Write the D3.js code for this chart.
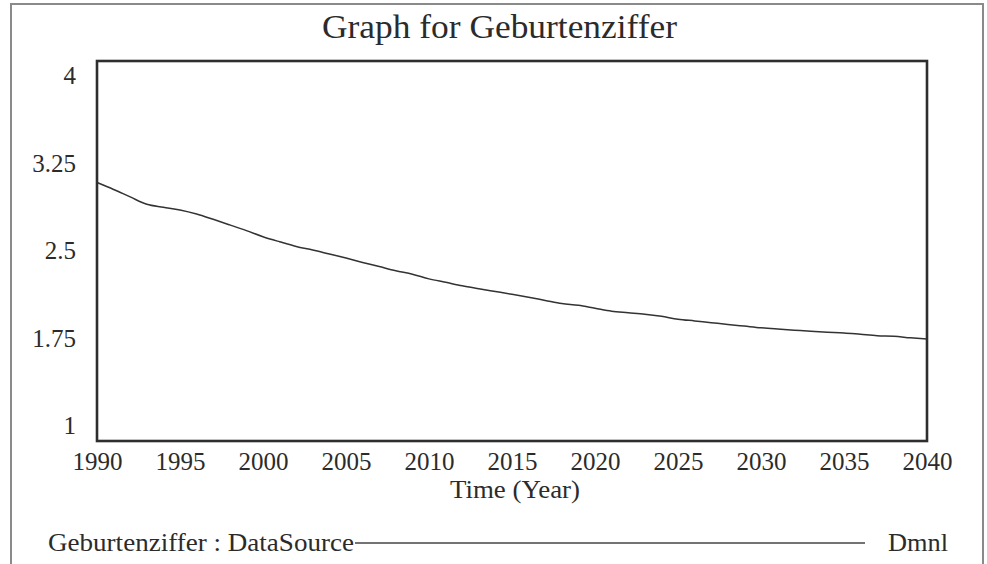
<!DOCTYPE html>
<html>
<head>
<meta charset="utf-8">
<script src="https://cdn.jsdelivr.net/npm/d3@7"></script>
<style>
  html, body { margin: 0; padding: 0; background: #ffffff; }
  svg { display: block; }
  text { font-family: "Liberation Serif", "Times New Roman", serif; fill: #2b2b2b; }
</style>
</head>
<body>
<svg id="chart" width="987" height="564"></svg>
<script>
// ---- data ----
const years = [1990,1991,1992,1993,1994,1995,1996,1997,1998,1999,
               2000,2001,2002,2003,2004,2005,2006,2007,2008,2009,
               2010,2011,2012,2013,2014,2015,2016,2017,2018,2019,
               2020,2021,2022,2023,2024,2025,2026,2027,2028,2029,
               2030,2031,2032,2033,2034,2035,2036,2037,2038,2039,2040];
const geburtenziffer = [3.041,2.986,2.927,2.869,2.846,2.824,2.792,2.750,2.706,2.661,
                        2.613,2.573,2.536,2.508,2.476,2.444,2.410,2.377,2.344,2.317,
                        2.280,2.253,2.225,2.202,2.180,2.158,2.135,2.110,2.085,2.071,
                        2.048,2.025,2.013,2.001,1.984,1.962,1.948,1.934,1.920,1.907,
                        1.894,1.884,1.875,1.866,1.859,1.853,1.842,1.831,1.827,1.815,1.805];
const xTicks = [1990,1995,2000,2005,2010,2015,2020,2025,2030,2035,2040];
const yTicks = [1, 1.75, 2.5, 3.25, 4];
const yTickLabels = ["1", "1.75", "2.5", "3.25", "4"];
const title = "Graph for Geburtenziffer";
const xTitle = "Time (Year)";
const legendName = "Geburtenziffer : DataSource";
const legendUnit = "Dmnl";

// ---- layout ----
const svg = d3.select("#chart");
const plot = { left: 97, right: 927, top: 61, bottom: 441 };

const x = d3.scaleLinear().domain([1990, 2040]).range([plot.left, plot.right]);
const y = d3.scaleLinear().domain([1, 4]).range([plot.bottom, plot.top]);
// Vensim places the extreme value labels inside the frame
const yLabel = d3.scaleLinear().domain([1, 4]).range([425.5, 75.5]);

// outer page frame
svg.append("rect")
  .attr("x", 11).attr("y", 4).attr("width", 972).attr("height", 580)
  .attr("fill", "none").attr("stroke", "#8a8a8a").attr("stroke-width", 2);

// title
svg.append("text")
  .attr("x", 499.5).attr("y", 38)
  .attr("text-anchor", "middle")
  .attr("font-size", 33)
  .attr("textLength", 355).attr("lengthAdjust", "spacingAndGlyphs")
  .text(title);

// data line
const line = d3.line()
  .x((d, i) => x(years[i]))
  .y(d => y(d))
  .curve(d3.curveMonotoneX);

svg.append("path")
  .datum(geburtenziffer)
  .attr("d", line)
  .attr("fill", "none")
  .attr("stroke", "#333")
  .attr("stroke-width", 1.5);

// plot frame
svg.append("rect")
  .attr("x", plot.left).attr("y", plot.top)
  .attr("width", plot.right - plot.left).attr("height", plot.bottom - plot.top)
  .attr("fill", "none").attr("stroke", "#2e2e2e").attr("stroke-width", 2.6);

// x axis labels
const xAxis = svg.append("g")
  .attr("transform", `translate(0,${plot.bottom})`)
  .call(d3.axisBottom(x).tickValues(xTicks).tickSize(0).tickPadding(11.5).tickFormat(d3.format("d")));
xAxis.select(".domain").remove();
xAxis.selectAll("text")
  .attr("font-family", "Liberation Serif, Times New Roman, serif")
  .attr("font-size", 25)
  .attr("fill", "#2b2b2b");

// y axis labels
const yAxis = svg.append("g")
  .attr("transform", `translate(${plot.left},0)`)
  .call(d3.axisLeft(yLabel).tickValues(yTicks).tickSize(0).tickPadding(21)
        .tickFormat((d, i) => yTickLabels[i]));
yAxis.select(".domain").remove();
yAxis.selectAll("text")
  .attr("font-family", "Liberation Serif, Times New Roman, serif")
  .attr("font-size", 25)
  .attr("dy", "0.33em")
  .attr("fill", "#2b2b2b");

// x axis title
svg.append("text")
  .attr("x", 515).attr("y", 498)
  .attr("text-anchor", "middle")
  .attr("font-size", 25)
  .attr("textLength", 130).attr("lengthAdjust", "spacingAndGlyphs")
  .text(xTitle);

// legend
svg.append("text")
  .attr("x", 48).attr("y", 551)
  .attr("font-size", 25)
  .attr("textLength", 306).attr("lengthAdjust", "spacingAndGlyphs")
  .text(legendName);
svg.append("line")
  .attr("x1", 355).attr("x2", 865).attr("y1", 543).attr("y2", 543)
  .attr("stroke", "#444").attr("stroke-width", 1.5);
svg.append("text")
  .attr("x", 888).attr("y", 551)
  .attr("font-size", 25)
  .attr("textLength", 60).attr("lengthAdjust", "spacingAndGlyphs")
  .text(legendUnit);
</script>
</body>
</html>
